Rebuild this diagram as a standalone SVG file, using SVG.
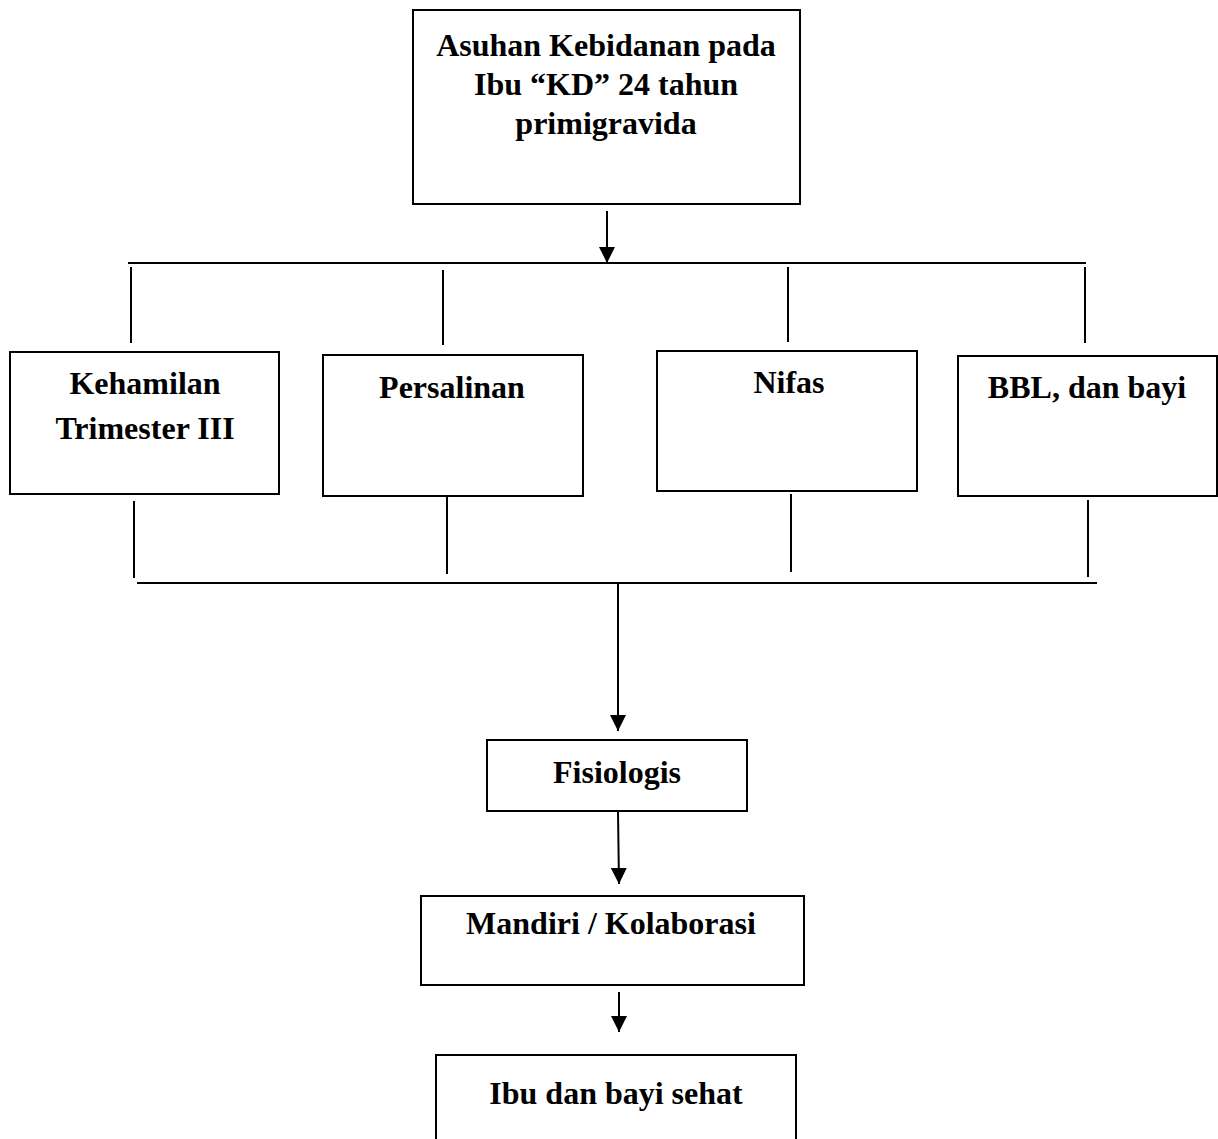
<svg xmlns="http://www.w3.org/2000/svg" width="1218" height="1139" viewBox="0 0 1218 1139">
<style>
.box{fill:#fff;stroke:#000;stroke-width:2}
.t{font-family:"Liberation Serif","Times New Roman",serif;font-weight:bold;font-size:32px;fill:#000;text-anchor:middle}
.ln{stroke:#000;stroke-width:2;fill:none}
</style>
<defs>
<marker id="arr" markerUnits="userSpaceOnUse" markerWidth="16" markerHeight="18" refX="16" refY="9" orient="auto">
<path d="M0,1 L16,9 L0,17 z" fill="#000"/>
</marker>
</defs>
<rect width="1218" height="1139" fill="#fff"/>
<g id="connectors">
<line class="ln" x1="607" y1="211" x2="607" y2="263" marker-end="url(#arr)"/>
<line class="ln" x1="128" y1="263" x2="1086" y2="263"/>
<line class="ln" x1="131" y1="267" x2="131" y2="343"/>
<line class="ln" x1="443" y1="270" x2="443" y2="345"/>
<line class="ln" x1="788" y1="267" x2="788" y2="342"/>
<line class="ln" x1="1085" y1="267" x2="1085" y2="343"/>
<line class="ln" x1="134" y1="501" x2="134" y2="578"/>
<line class="ln" x1="447" y1="497" x2="447" y2="574"/>
<line class="ln" x1="791" y1="494" x2="791" y2="572"/>
<line class="ln" x1="1088" y1="500" x2="1088" y2="577"/>
<line class="ln" x1="137" y1="583" x2="1097" y2="583"/>
<line class="ln" x1="618" y1="584" x2="618" y2="731" marker-end="url(#arr)"/>
<line class="ln" x1="618" y1="812" x2="619" y2="884" marker-end="url(#arr)"/>
<line class="ln" x1="619" y1="992" x2="619" y2="1032" marker-end="url(#arr)"/>
</g>
<g id="node-top">
<rect class="box" x="413" y="10" width="387" height="194"/>
<text class="t" x="606" y="56">Asuhan Kebidanan pada</text>
<text class="t" x="606" y="95">Ibu “KD” 24 tahun</text>
<text class="t" x="606" y="134">primigravida</text>
</g>
<g id="node-kehamilan">
<rect class="box" x="10" y="352" width="269" height="142"/>
<text class="t" x="145" y="394">Kehamilan</text>
<text class="t" x="145" y="439">Trimester III</text>
</g>
<g id="node-persalinan">
<rect class="box" x="323" y="355" width="260" height="141"/>
<text class="t" x="452" y="398">Persalinan</text>
</g>
<g id="node-nifas">
<rect class="box" x="657" y="351" width="260" height="140"/>
<text class="t" x="789" y="393">Nifas</text>
</g>
<g id="node-bbl">
<rect class="box" x="958" y="356" width="259" height="140"/>
<text class="t" x="1087" y="398">BBL, dan bayi</text>
</g>
<g id="node-fisiologis">
<rect class="box" x="487" y="740" width="260" height="71"/>
<text class="t" x="617" y="783">Fisiologis</text>
</g>
<g id="node-mandiri">
<rect class="box" x="421" y="896" width="383" height="89"/>
<text class="t" x="611" y="934">Mandiri / Kolaborasi</text>
</g>
<g id="node-ibu">
<rect class="box" x="436" y="1055" width="360" height="100"/>
<text class="t" x="616" y="1104">Ibu dan bayi sehat</text>
</g>
</svg>
